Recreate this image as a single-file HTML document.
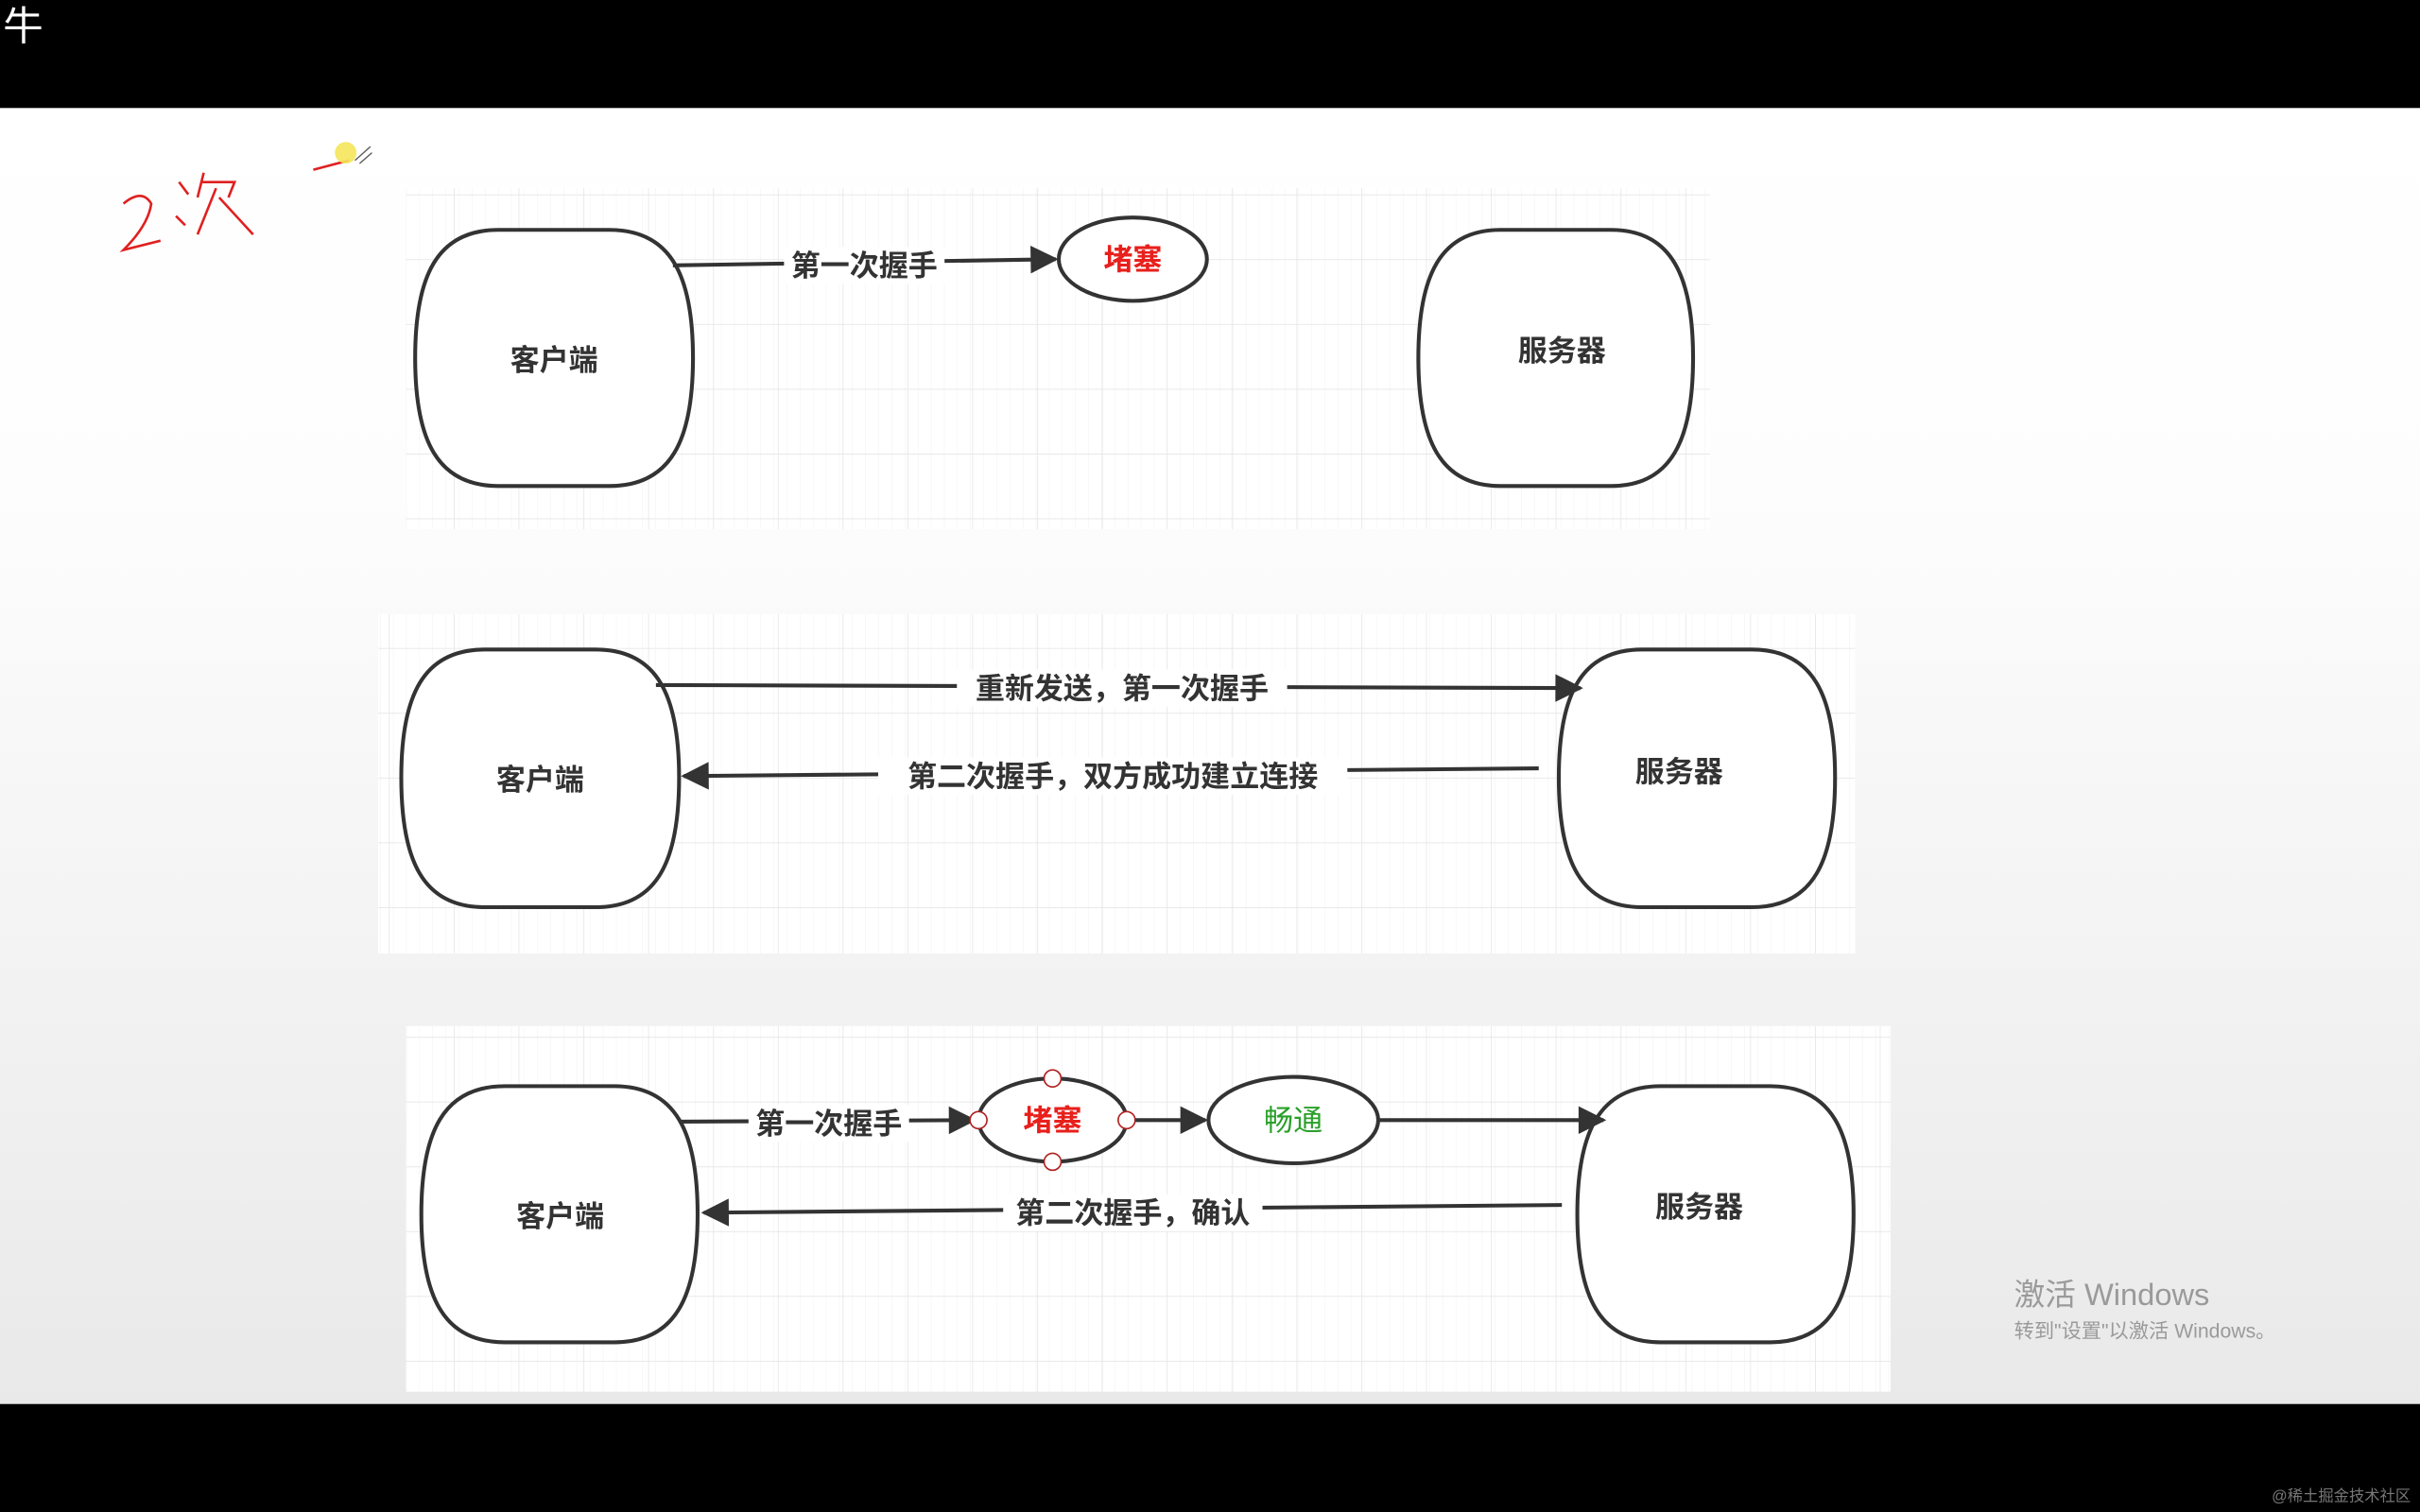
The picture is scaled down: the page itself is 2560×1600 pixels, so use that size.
<!DOCTYPE html>
<html><head><meta charset="utf-8"><style>
html,body{margin:0;padding:0;background:#000;}
svg{display:block}
text{font-family:"Liberation Sans","Noto Sans CJK SC",sans-serif;}
</style></head><body>
<svg width="2560" height="1600" viewBox="0 0 1568 980" xmlns="http://www.w3.org/2000/svg">
<defs>
<linearGradient id="bg" x1="0" y1="0" x2="0" y2="1">
<stop offset="0" stop-color="#ffffff"/><stop offset="0.3" stop-color="#fdfdfd"/><stop offset="1" stop-color="#e9e9e9"/>
</linearGradient>
<pattern id="grid" width="8.5" height="8.5" patternUnits="userSpaceOnUse">
<path d="M8.5 0V8.5" stroke="#f1f1f1" stroke-width="0.6" fill="none"/>
</pattern>
<pattern id="grid2" width="42" height="42" patternUnits="userSpaceOnUse">
<path d="M0 0H42M0 0V42" stroke="#e6e6e6" stroke-width="1" fill="none"/>
</pattern>
<marker id="ahb" viewBox="0 0 10 10" markerWidth="22" markerHeight="18" refX="9" refY="5" orient="auto" markerUnits="userSpaceOnUse">
<path d="M0 0L10 5L0 10Z" fill="#333"/>
</marker>
</defs>
<rect x="0" y="0" width="1568" height="980" fill="#000"/>
<rect x="0" y="70" width="1568" height="840" fill="url(#bg)"/>
<text x="2" y="26" font-size="26" fill="#fff">牛</text>

<path d="M80 132 Q92 122 98 132 Q96 146 80 162 L104 156" stroke="#e02020" stroke-width="1.6" fill="none"/>
<path d="M116 118 L122 126 M114 140 L120 146 M132 112 L128 128 M130 118 L152 118 L148 128 M140 122 L128 152 M142 128 L164 152" stroke="#e02020" stroke-width="1.6" fill="none"/>
<path d="M203 110 L226 104" stroke="#e02020" stroke-width="1.6" fill="none"/>
<circle cx="224" cy="99" r="7" fill="#f4e55a" opacity="0.9"/>
<path d="M230 104 L240 95 M233 106 L241 99" stroke="#555" stroke-width="0.8"/>

<rect x="263" y="122" width="845" height="221" fill="#fff"/>
<rect x="263" y="122" width="845" height="221" fill="url(#grid)"/>
<rect x="263" y="122" width="845" height="221" fill="url(#grid2)"/>
<rect x="245" y="398" width="957" height="220" fill="#fff"/>
<rect x="245" y="398" width="957" height="220" fill="url(#grid)"/>
<rect x="245" y="398" width="957" height="220" fill="url(#grid2)"/>
<rect x="263" y="665" width="962" height="237" fill="#fff"/>
<rect x="263" y="665" width="962" height="237" fill="url(#grid)"/>
<rect x="263" y="665" width="962" height="237" fill="url(#grid2)"/>

<g fill="#fff" stroke="#333" stroke-width="2.5">
<path d="M323 149 L395 149 C435 149 449 179 449 232 C449 285 435 315 395 315 L323 315 C283 315 269 285 269 232 C269 179 283 149 323 149Z"/>
<path d="M972 149 L1044 149 C1083 149 1097 179 1097 232 C1097 285 1083 315 1044 315 L972 315 C933 315 919 285 919 232 C919 179 933 149 972 149Z"/>
<path d="M314 421 L386 421 C426 421 440 451 440 504 C440 558 426 588 386 588 L314 588 C274 588 260 558 260 504 C260 451 274 421 314 421Z"/>
<path d="M1064 421 L1135 421 C1175 421 1189 451 1189 504 C1189 558 1175 588 1135 588 L1064 588 C1024 588 1010 558 1010 504 C1010 451 1024 421 1064 421Z"/>
<path d="M327 704 L398 704 C438 704 452 734 452 787 C452 840 438 870 398 870 L327 870 C287 870 273 840 273 787 C273 734 287 704 327 704Z"/>
<path d="M1076 704 L1147 704 C1187 704 1201 734 1201 787 C1201 840 1187 870 1147 870 L1076 870 C1036 870 1022 840 1022 787 C1022 734 1036 704 1076 704Z"/>
</g>
<g font-size="19" font-weight="bold" fill="#333" text-anchor="middle">
<text x="359" y="240">客户端</text>
<text x="1012" y="234">服务器</text>
<text x="350" y="512">客户端</text>
<text x="1088" y="507">服务器</text>
<text x="363" y="795">客户端</text>
<text x="1101" y="789">服务器</text>
</g>

<g stroke="#333" stroke-width="2.5" fill="none" marker-end="url(#ahb)">
<path d="M436 172 L684 168"/>
<path d="M425 444 L1024 446"/>
<path d="M997 498 L443 503"/>
<path d="M440 727 L631 726"/>
<path d="M731 726 L781 726"/>
<path d="M893 726 L1039 726"/>
<path d="M1012 781 L456 786"/>
</g>
<g font-size="19" font-weight="bold" fill="#333" text-anchor="middle">
<rect x="508" y="160" width="104" height="24" fill="#fff"/>
<text x="560" y="179">第一次握手</text>
<rect x="620" y="434" width="214" height="24" fill="#fff"/>
<text x="727" y="453">重新发送，第一次握手</text>
<rect x="569" y="491" width="304" height="24" fill="#fff"/>
<text x="721" y="510">第二次握手，双方成功建立连接</text>
<rect x="485" y="716" width="104" height="24" fill="#fff"/>
<text x="537" y="735">第一次握手</text>
<rect x="650" y="774" width="168" height="24" fill="#fff"/>
<text x="734" y="793">第二次握手，确认</text>
</g>
<g fill="#fff" stroke="#333" stroke-width="2.5">
<ellipse cx="734" cy="168" rx="48" ry="27"/>
<ellipse cx="682" cy="726" rx="48" ry="27"/>
<ellipse cx="838" cy="726" rx="55" ry="28"/>
</g>
<g fill="#fff" stroke="#b02020" stroke-width="1">
<circle cx="682" cy="699" r="5.5"/><circle cx="682" cy="753" r="5.5"/>
<circle cx="634" cy="726" r="5.5"/><circle cx="730" cy="726" r="5.5"/>
</g>
<g font-size="19" font-weight="bold" text-anchor="middle">
<text x="734" y="175" fill="#e8201c">堵塞</text>
<text x="682" y="733" fill="#e8201c">堵塞</text>
<text x="838" y="733" fill="#2aa02a" font-weight="normal">畅通</text>
</g>

<text x="1305" y="846" font-size="20" fill="#9a9a9a">激活 Windows</text>
<text x="1305" y="867" font-size="13" fill="#9a9a9a">转到"设置"以激活 Windows。</text>
<text x="1562" y="973" font-size="10" fill="#777" text-anchor="end">@稀土掘金技术社区</text>
</svg>
</body></html>
